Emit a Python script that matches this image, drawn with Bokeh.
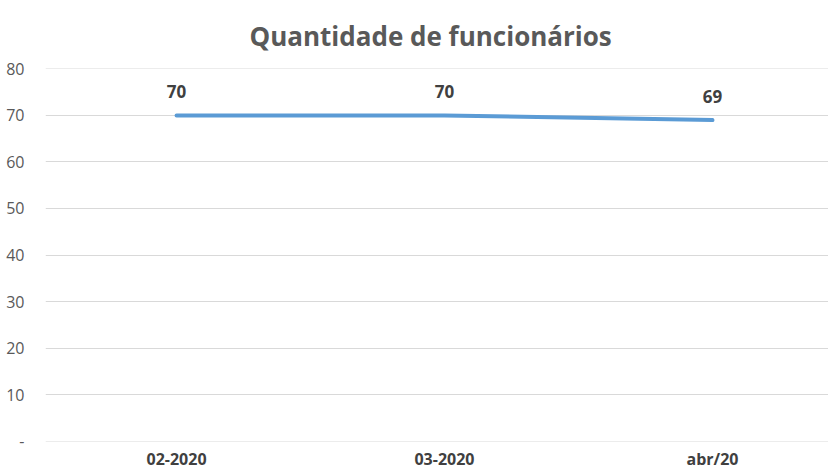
from bokeh.plotting import figure
from bokeh.models import ColumnDataSource, LabelSet, FixedTicker, Range1d
from bokeh.core.properties import value
from bokeh.embed import file_html
from bokeh.resources import INLINE

categories = ["02-2020", "03-2020", "abr/20"]
values = [70, 70, 69]
y_ticks = [0, 10, 20, 30, 40, 50, 60, 70, 80]
y_tick_labels = ["-", "10", "20", "30", "40", "50", "60", "70", "80"]

xs = list(range(len(categories)))
src = ColumnDataSource(dict(x=xs, y=values, lab=[str(v) for v in values]))

p = figure(frame_width=783, frame_height=373, output_backend="svg", toolbar_location=None,
           x_range=Range1d(-0.489, 2.433), y_range=Range1d(-0.1, 80.1),
           min_border_left=45, min_border_right=0, min_border_top=67, min_border_bottom=20)
p.outline_line_color = None
p.background_fill_color = "white"
p.border_fill_color = "white"

p.title.text = "Quantidade de funcionários"
p.title.align = "left"
p.title.offset = 204
p.title.text_font = "Open Sans"
p.title.text_font_size = "26px"
p.title.text_font_style = "bold"
p.title.text_color = "#595959"
p.title.standoff = 30

p.line("x", "y", source=src, line_color="#5B9BD5", line_width=4, line_cap="round")

labels = LabelSet(x="x", y="y", text="lab", source=src, y_offset=17,
                  text_align="center", text_baseline="bottom",
                  text_font=value("Open Sans"), text_font_size=value("17px"),
                  text_font_style="bold", text_color="#404040")
p.add_layout(labels)

p.xgrid.grid_line_color = None
p.ygrid.grid_line_color = "#d9d9d9"
p.ygrid.grid_line_width = 1
p.ygrid.ticker = FixedTicker(ticks=y_ticks)

p.yaxis.ticker = FixedTicker(ticks=y_ticks)
p.yaxis.major_label_overrides = {t: l for t, l in zip(y_ticks, y_tick_labels)}
p.yaxis.axis_line_color = None
p.yaxis.major_tick_line_color = None
p.yaxis.minor_tick_line_color = None
p.yaxis.major_label_text_font = "Open Sans"
p.yaxis.major_label_text_font_size = "16px"
p.yaxis.major_label_text_color = "#595959"
p.yaxis.major_label_standoff = 15

p.xaxis.ticker = FixedTicker(ticks=xs)
p.xaxis.major_label_overrides = {i: c for i, c in zip(xs, categories)}
p.xaxis.axis_line_color = None
p.xaxis.major_tick_line_color = None
p.xaxis.minor_tick_line_color = None
p.xaxis.major_label_text_font = "Open Sans"
p.xaxis.major_label_text_font_size = "16px"
p.xaxis.major_label_text_font_style = "bold"
p.xaxis.major_label_text_color = "#404040"
p.xaxis.major_label_standoff = 0

open("out.html", "w").write(file_html(p, INLINE))
